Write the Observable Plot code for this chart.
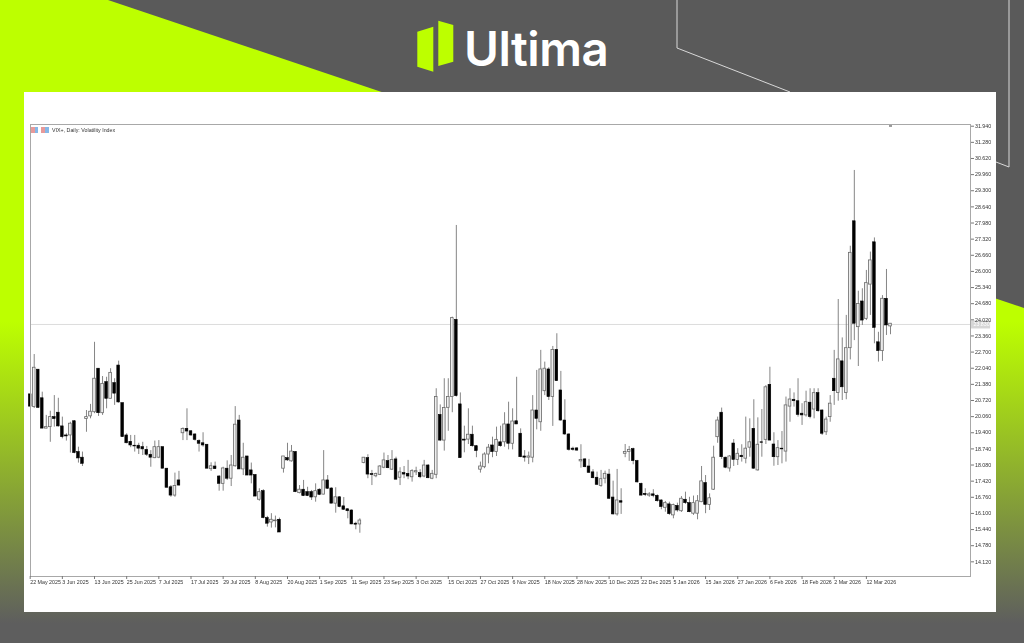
<!DOCTYPE html>
<html>
<head>
<meta charset="utf-8">
<script src="https://cdn.jsdelivr.net/npm/d3@7"></script>
<script src="https://cdn.jsdelivr.net/npm/@observablehq/plot@0.6"></script>
<style>
html,body{margin:0;padding:0;width:1024px;height:643px;overflow:hidden;background:#5a5a5a;font-family:"Liberation Sans",sans-serif}
#deco{position:absolute;left:0;top:0}
#panel{position:absolute;left:24px;top:92px;width:972px;height:520px;background:#fff}
#logo{position:absolute;left:464px;top:21px;font:600 47.5px/56px Inter,sans-serif;color:#fff;letter-spacing:-.5px}
#chart{position:absolute;left:0;top:0;filter:blur(0.3px)}
#legend{position:absolute;left:52px;top:127px;font:5.3px/7px "Liberation Sans",sans-serif;color:#333;white-space:nowrap;filter:blur(0.3px)}
.ic{position:absolute;top:127px;height:6px;background:linear-gradient(90deg,#e79a9a 0 50%,#86b7e6 50% 100%)}
</style>
</head>
<body>
<svg id="deco" width="1024" height="643">
<defs><linearGradient id="g" x1="0" y1="0" x2="0" y2="643" gradientUnits="userSpaceOnUse">
<stop offset="0.5" stop-color="#bdff00"/><stop offset="0.97" stop-color="#5e5e5e"/></linearGradient></defs>
<polygon points="0,0 108,0 1024,308 1024,643 0,643" fill="url(#g)"/>
<polyline points="677,0 677,48 790,92" fill="none" stroke="#d8d8d8"/>
<polyline points="996,162 1009,167 1009,0" fill="none" stroke="#d8d8d8"/>
<polygon points="417.3,31.7 433.3,26.7 433.3,71.7 417.3,66.7" fill="#bdff00"/>
<polygon points="438.3,20.7 453.3,25 453.3,61.7 438.3,66" fill="#bdff00"/>
</svg>
<div id="logo">Ultima</div>
<div id="panel"></div>
<div id="chart"></div>
<div class="ic" style="left:31px;width:7px"></div>
<div class="ic" style="left:41px;width:8px"></div>
<div id="legend">VIX+, Daily:  Volatility Index</div>
<script>
const high=[20.97,22.60,21.98,21.06,20.11,20.28,20.92,20.81,20.04,19.36,
19.83,19.90,18.81,18.61,20.31,20.56,23.10,22.02,21.70,21.67,
22.02,21.61,22.33,20.61,19.36,19.29,19.29,18.97,19.01,18.84,
18.67,19.06,19.08,18.81,17.93,17.24,17.75,17.82,19.60,20.38,
19.49,19.36,19.11,19.40,18.91,18.17,18.20,17.65,17.99,18.25,
18.47,20.47,20.11,18.97,18.43,18.16,17.69,17.11,17.07,15.98,
16.09,15.99,15.91,18.43,18.97,18.88,18.63,17.24,17.45,17.17,
17.04,17.31,17.11,18.67,17.65,17.15,17.15,16.79,16.75,16.29,
16.25,15.74,15.88,18.38,18.50,17.86,17.75,18.06,18.57,18.47,
18.67,18.40,17.97,18.02,18.27,17.89,17.99,17.89,18.27,18.10,
17.86,21.20,20.54,21.61,21.61,24.13,27.88,21.03,19.67,20.38,
19.67,18.88,18.20,18.58,18.92,19.22,19.63,19.67,20.22,20.65,
20.38,21.67,19.56,18.67,18.61,20.92,21.95,22.77,22.29,22.06,
22.93,23.45,21.91,20.75,19.36,18.81,18.79,18.91,18.34,18.31,
17.89,17.79,17.86,17.83,17.90,17.42,17.90,17.11,18.92,18.84,
18.77,18.27,17.34,17.11,16.95,17.07,16.86,16.66,16.59,16.56,
16.48,16.52,16.79,16.97,16.76,16.81,16.83,18.02,17.65,16.90,
18.85,20.04,20.41,18.40,18.47,19.12,18.75,18.91,20.04,19.97,
20.75,20.01,20.35,21.33,22.08,19.40,19.08,19.45,20.86,21.20,
21.03,21.61,20.59,21.10,21.20,21.20,21.20,20.34,20.04,20.92,
22.77,24.85,23.28,24.20,27.03,30.13,25.19,25.29,26.04,26.79,
27.37,23.51,25.01,26.08,23.86];
const bodyTop=[20.97,22.06,21.98,20.81,19.63,20.04,20.04,20.22,19.66,19.29,
19.77,19.87,18.61,18.38,20.04,20.26,21.61,22.02,21.40,21.47,
21.85,21.43,22.15,20.61,19.29,19.03,18.87,18.87,18.81,18.70,
18.50,18.81,18.81,18.81,17.93,17.17,17.22,17.45,19.55,19.56,
19.46,19.33,19.06,18.97,18.91,18.03,18.02,17.61,17.94,17.93,
18.06,19.73,19.90,18.38,18.43,17.86,17.67,16.97,17.01,15.91,
15.84,15.81,15.84,18.43,18.36,18.63,18.61,17.07,17.07,16.97,
16.97,17.01,17.07,17.45,17.45,17.12,16.76,16.76,16.39,16.27,
16.22,15.68,15.81,18.38,18.36,17.71,17.71,18.02,18.27,18.24,
18.29,18.31,17.78,17.75,17.72,17.83,17.83,17.75,18.06,18.06,
17.72,20.86,20.13,20.41,20.86,24.09,24.02,20.56,19.12,19.32,
19.32,18.85,18.02,18.51,18.79,18.88,19.11,19.01,19.74,19.74,
19.86,19.87,19.36,18.43,18.43,20.31,20.31,21.99,22.02,21.99,
22.79,22.79,21.13,19.90,19.33,18.75,18.76,18.29,18.31,18.02,
17.78,17.56,17.50,17.72,17.69,16.75,16.63,16.60,18.61,18.70,
18.73,18.24,17.31,16.90,16.88,16.88,16.82,16.63,16.52,16.47,
16.44,16.41,16.70,16.66,16.52,16.52,16.60,17.41,17.34,16.72,
18.38,19.90,20.22,18.38,18.43,18.96,18.54,18.46,18.75,19.01,
19.56,18.91,19.01,21.26,21.36,18.92,18.77,18.75,20.52,20.76,
20.75,20.69,20.18,20.65,20.63,21.02,21.02,20.31,19.94,20.59,
21.61,22.40,22.32,22.86,26.76,28.05,24.67,24.77,25.52,26.45,
27.19,23.10,24.88,24.88,23.86];
const bodyBottom=[20.47,20.45,20.42,19.57,19.57,19.63,19.96,19.66,19.22,19.25,
19.29,18.57,18.35,18.13,19.96,20.07,20.24,20.20,20.20,20.79,
20.79,21.00,20.64,19.22,18.97,18.88,18.84,18.75,18.72,18.50,
18.38,18.36,18.38,17.93,17.15,16.83,16.83,17.24,19.38,19.45,
19.29,19.11,18.95,18.88,17.93,17.91,17.91,17.31,17.31,17.52,
17.52,18.03,17.90,17.90,17.65,17.65,16.79,16.66,15.91,15.68,
15.73,15.78,15.32,17.93,18.27,18.23,16.97,16.93,16.81,16.81,
16.75,16.76,16.86,16.87,17.11,16.50,16.50,16.36,16.25,16.19,
15.65,15.64,15.65,18.16,17.69,17.67,17.62,17.68,17.97,17.95,
17.89,17.48,17.56,17.69,17.61,17.58,17.78,17.58,17.61,17.54,
17.52,17.68,19.08,19.08,20.42,20.86,20.90,18.36,19.08,19.12,
18.85,18.65,17.89,17.99,18.51,18.61,18.61,18.85,19.01,18.95,
18.95,19.74,18.40,18.38,18.38,18.38,19.97,19.83,21.10,20.86,
20.86,21.51,19.90,19.33,18.70,18.70,18.67,18.23,17.99,17.76,
17.54,17.27,17.22,17.52,16.70,16.06,16.06,16.54,18.54,18.61,
18.24,17.37,16.83,16.85,16.83,16.82,16.60,16.36,16.33,16.07,
16.02,16.22,16.19,16.52,16.15,16.09,16.09,16.56,16.45,16.45,
17.07,19.22,18.40,17.97,17.94,18.29,18.29,18.40,18.34,18.79,
17.93,17.86,18.99,19.11,19.08,18.40,18.40,18.72,18.63,20.47,
20.69,20.13,20.11,20.11,20.04,20.35,20.28,19.36,19.42,20.04,
21.10,21.03,21.26,21.03,22.86,23.86,23.72,23.99,24.06,25.46,
23.69,22.74,22.74,23.79,23.75];
const low=[20.43,20.39,20.39,19.57,19.56,19.01,19.63,19.63,19.15,19.06,
18.57,18.54,18.16,18.02,19.42,19.97,20.18,20.07,20.11,20.38,
20.79,20.52,20.61,19.22,18.95,18.79,18.61,18.51,18.47,18.43,
17.99,18.34,18.34,17.93,17.15,16.76,16.76,17.22,19.08,19.08,
19.25,19.06,18.61,18.81,17.93,17.82,17.90,17.01,17.01,17.45,
17.20,17.99,17.90,17.65,17.65,17.31,16.79,16.60,15.88,15.54,
15.50,15.51,15.32,17.75,18.23,18.20,16.95,16.90,16.79,16.79,
16.63,16.56,16.83,16.86,17.08,16.50,16.11,16.33,16.22,15.88,
15.64,15.43,15.29,18.13,17.52,17.24,17.56,17.65,17.93,17.93,
17.86,17.48,17.24,17.52,17.48,17.38,17.65,17.52,17.56,17.52,
17.48,17.52,19.04,18.65,19.46,20.22,20.86,18.35,18.58,18.92,
18.81,18.38,17.75,17.93,18.13,18.38,18.43,18.81,18.81,18.70,
18.70,19.74,18.38,18.20,18.10,18.17,19.52,19.46,20.92,20.72,
19.66,21.50,19.87,19.29,18.65,18.65,18.65,17.95,17.97,17.75,
17.52,17.24,17.17,17.31,16.67,16.03,15.99,16.06,18.38,18.23,
18.09,17.34,16.81,16.79,16.76,16.74,16.56,16.25,16.15,16.02,
15.88,16.15,16.14,16.47,16.13,16.02,15.84,16.54,16.09,16.22,
17.04,18.97,18.31,17.93,17.79,18.02,18.06,18.20,18.13,18.40,
17.90,17.83,18.40,18.92,19.08,18.03,18.06,18.13,18.20,19.83,
20.45,20.04,19.70,20.04,19.97,19.97,20.24,19.29,19.29,19.83,
20.52,20.69,20.72,20.75,22.38,23.17,22.11,23.79,23.99,24.20,
23.04,22.29,22.32,23.38,23.41];
const bearish=[1,0,1,1,0,0,1,1,1,1,
0,1,1,1,0,0,0,1,0,1,
0,1,1,1,1,1,1,1,1,1,
1,0,0,1,1,1,0,1,0,1,
1,1,1,1,1,0,1,1,0,1,
0,0,1,0,1,1,1,0,1,1,
0,0,1,0,1,0,1,0,1,1,
1,0,1,0,1,1,0,1,1,1,
1,1,0,0,1,1,0,0,0,1,
0,1,0,1,1,0,0,1,0,1,
0,0,1,0,0,0,1,1,1,0,
1,1,0,0,0,1,0,1,0,1,
0,1,1,1,0,0,1,0,0,1,
0,1,1,1,1,1,1,0,1,1,
1,1,0,0,1,1,0,1,0,0,
1,1,1,1,0,1,1,1,0,1,
0,1,0,1,1,0,0,0,1,0,
0,0,1,1,0,1,0,1,0,0,
1,0,1,0,1,1,0,1,0,0,
1,1,1,0,1,0,1,1,0,0,
1,0,1,0,0,1,0,1,0,0,
1,1,0,1,0];
const dateLabels=["22 May 2025","3 Jun 2025","13 Jun 2025","25 Jun 2025","7 Jul 2025","17 Jul 2025","29 Jul 2025","8 Aug 2025","20 Aug 2025","1 Sep 2025","11 Sep 2025","23 Sep 2025","3 Oct 2025","15 Oct 2025","27 Oct 2025","6 Nov 2025","18 Nov 2025","28 Nov 2025","10 Dec 2025","22 Dec 2025","5 Jan 2026","15 Jan 2026","27 Jan 2026","6 Feb 2026","18 Feb 2026","2 Mar 2026","12 Mar 2026"];
const priceTicks=[31.94,31.28,30.62,29.96,29.30,28.64,27.98,27.32,26.66,26.00,25.34,24.68,24.02,23.36,22.70,22.04,21.38,20.72,20.06,19.40,18.74,18.08,17.42,16.76,16.10,15.44,14.78,14.12];
const lastPrice=23.83, chartHigh=31.94;
const barsPerLabel=8, xDomain=[0.075,233.9], yDomain=[13.52,32.01], halfBody=0.33;

const bars=high.map((h,i)=>({i,h,t:bodyTop[i],b:bodyBottom[i],l:low[i],down:bearish[i]===1}));
const plot=Plot.plot({
  width:1024,height:643,
  marginLeft:30,marginRight:54,marginTop:124,marginBottom:67,
  x:{type:"linear",domain:xDomain,axis:null},
  y:{type:"linear",domain:yDomain,axis:null},
  style:{background:"transparent",fontFamily:"'Liberation Sans',sans-serif",fontSize:"5.3px",color:"#333"},
  marks:[
    Plot.ruleY([lastPrice],{stroke:"#dcdcdc",strokeWidth:1}),
    Plot.ruleY([lastPrice],{x1:xDomain[1],x2:xDomain[1]+5,stroke:"#d6d6d6",strokeWidth:8}),
    Plot.ruleX(bars,{x:"i",y1:"l",y2:"h",stroke:"#777",strokeWidth:0.9}),
    Plot.rect(bars.filter(d=>!d.down),{x1:d=>d.i-halfBody,x2:d=>d.i+halfBody,y1:"b",y2:"t",fill:"#eee",stroke:"#6a6a6a",strokeWidth:0.8}),
    Plot.rect(bars.filter(d=>d.down),{x1:d=>d.i-halfBody,x2:d=>d.i+halfBody,y1:"b",y2:"t",fill:"#000",stroke:"#000",strokeWidth:0.6}),
    Plot.ruleX([high.length-1],{y1:chartHigh-0.05,y2:chartHigh+0.05,stroke:"#999",strokeWidth:3}),
    Plot.frame({stroke:"#a8a8a8",strokeWidth:1}),
    Plot.axisY({anchor:"right",ticks:priceTicks,tickFormat:d3.format(".3f"),tickSize:3,tickPadding:1.5,stroke:"#777",fill:"#333",label:null}),
    Plot.axisX({anchor:"bottom",ticks:dateLabels.map((_,k)=>k*barsPerLabel),tickFormat:i=>dateLabels[i/barsPerLabel],tickSize:3,tickPadding:0.5,textAnchor:"start",stroke:"#777",fill:"#333",label:null}),
    Plot.text([lastPrice],{y:d=>d,x:()=>xDomain[1],dx:3,text:d=>d3.format(".3f")(d),textAnchor:"start",fill:"#fff"})
  ]
});
document.getElementById("chart").appendChild(plot);
</script>
</body>
</html>
